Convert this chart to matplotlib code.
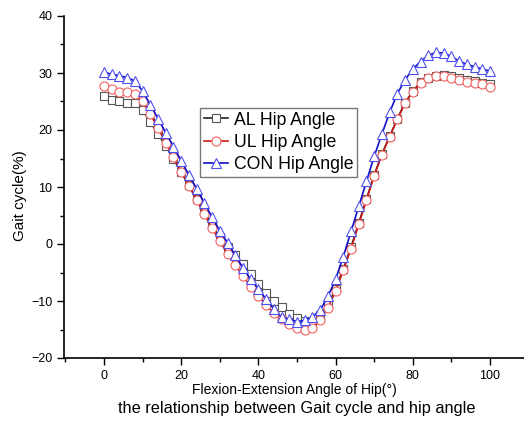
import matplotlib.pyplot as plt
import numpy as np
from matplotlib.ticker import MultipleLocator

plt.rcParams['font.family'] = ['Liberation Sans', 'DejaVu Sans']

# hip angle (x) sampled every 2 degrees
angle = list(range(0, 101, 2))

al_hip = [26.0, 25.3, 25.0, 24.7, 24.7, 23.5, 21.4, 19.3, 17.2, 14.9,
          12.6, 10.3, 7.9, 5.6, 3.3, 1.2, -0.6, -2.0, -3.5, -5.3,
          -7.1, -8.6, -10.0, -11.1, -12.2, -13.0, -13.5, -13.6, -12.5, -10.6,
          -7.9, -4.3, -0.5, 3.7, 7.9, 12.1, 15.8, 18.9, 22.0, 24.8,
          26.8, 28.4, 29.2, 29.5, 29.6, 29.4, 29.1, 28.8, 28.6, 28.3,
          28.0]

ul_hip = [27.7, 27.2, 26.7, 26.6, 26.4, 25.0, 22.8, 20.3, 17.8, 15.2,
          12.7, 10.2, 7.7, 5.2, 2.8, 0.5, -1.7, -3.7, -5.6, -7.5,
          -9.1, -10.7, -12.1, -13.2, -14.1, -14.7, -15.1, -14.8, -13.3, -11.2,
          -8.3, -4.6, -0.8, 3.5, 7.7, 12.0, 15.7, 18.8, 21.9, 24.7,
          26.7, 28.3, 29.1, 29.4, 29.4, 29.1, 28.8, 28.5, 28.3, 28.0,
          27.6]

con_hip = [30.1, 29.8, 29.5, 29.2, 28.6, 26.8, 24.4, 22.0, 19.5, 17.1,
           14.6, 12.1, 9.7, 7.2, 4.7, 2.3, 0.2, -2.0, -4.2, -6.2,
           -7.9, -9.7, -11.4, -12.8, -13.2, -13.6, -13.4, -12.8, -11.6, -9.2,
           -6.2, -2.2, 2.2, 6.6, 11.0, 15.4, 19.3, 23.1, 26.4, 28.8,
           30.7, 32.0, 33.1, 33.6, 33.5, 32.9, 32.1, 31.5, 31.1, 30.7,
           30.3]

fig = plt.figure(figsize=(5.24, 4.21), dpi=100)
ax = fig.add_axes([64/524., 63/421., 460/524., 342/421.])

ax.plot(angle, al_hip, color='#222222', lw=1.2, marker='s', ms=6,
        mfc='white', mec='#555555', mew=0.8, label='AL Hip Angle')
ax.plot(angle, ul_hip, color='#d01818', lw=1.2, marker='o', ms=6.5,
        mfc='white', mec='#f06060', mew=0.8, label='UL Hip Angle')
ax.plot(angle, con_hip, color='#1010c8', lw=1.2, marker='^', ms=7,
        mfc='white', mec='#5050f0', mew=0.8, label='CON Hip Angle')

ax.set_xlim(-10.36, 108.8)
ax.set_ylim(-20, 40)
ax.xaxis.set_major_locator(MultipleLocator(20))
ax.xaxis.set_minor_locator(MultipleLocator(10))
ax.yaxis.set_major_locator(MultipleLocator(10))
ax.yaxis.set_minor_locator(MultipleLocator(5))
ax.tick_params(which='major', direction='out', length=5, width=1, labelsize=9)
ax.tick_params(which='minor', direction='out', length=3, width=1)
for s in ['top', 'right']:
    ax.spines[s].set_visible(False)
ax.spines['left'].set_linewidth(1.2)
ax.spines['bottom'].set_linewidth(1.2)

ax.set_ylabel('Gait cycle(%)', fontsize=11)
ax.yaxis.set_label_coords(-0.08, 0.474)
ax.set_xlabel('Flexion-Extension Angle of Hip(°)', fontsize=10, labelpad=1)
fig.text(0.566, 0.029, 'the relationship between Gait cycle and hip angle',
         fontsize=11.8, ha='center', va='center')

leg = ax.legend(loc='upper left', bbox_to_anchor=(0.296, 0.731),
                fontsize=12.7, frameon=True, fancybox=False,
                handlelength=1.4, handletextpad=0.3, borderpad=0.2,
                labelspacing=0.3, borderaxespad=0)
leg.get_frame().set_edgecolor('#555555')
leg.get_frame().set_linewidth(1.0)

fig.savefig('out.png', dpi=100)
